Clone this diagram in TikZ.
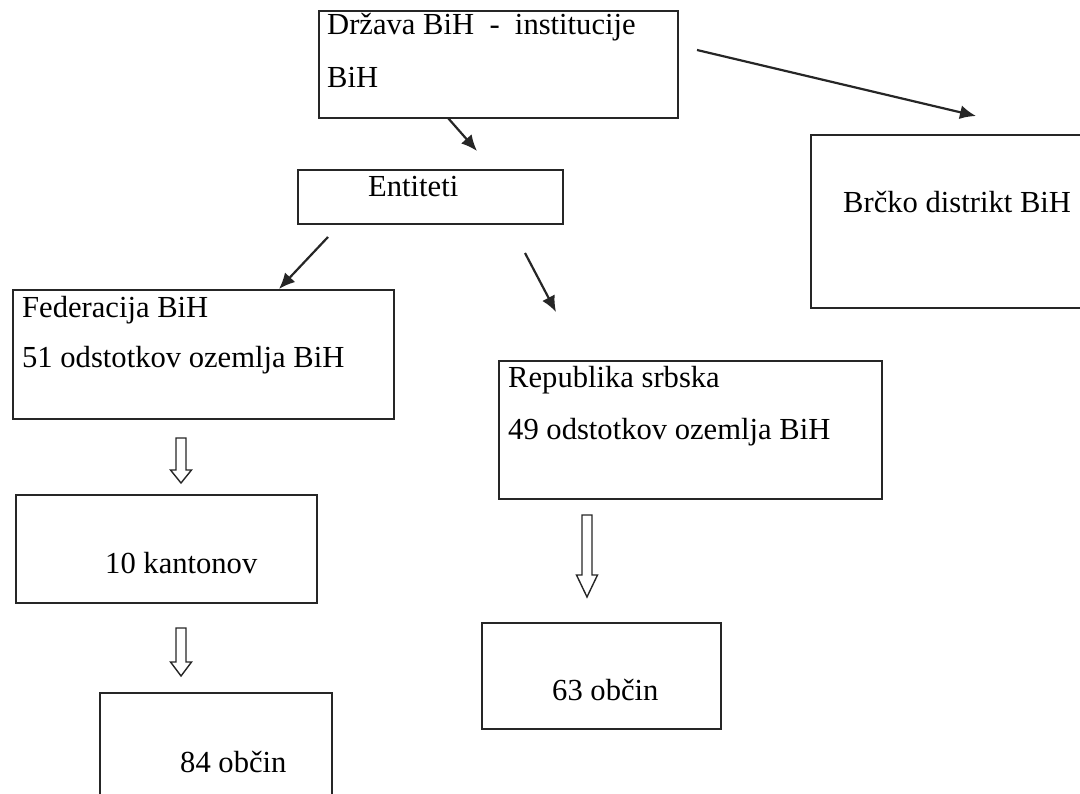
\documentclass[tikz,border=0pt]{standalone}
\usepackage{fontspec}
\setmainfont{Liberation Serif}
\usetikzlibrary{arrows.meta}
\tikzset{
  box/.style={draw=black!85, line width=2pt, fill=none, inner sep=0pt, anchor=north west},
  txt/.style={anchor=base west, inner sep=0pt, font=\fontsize{30.6}{36}\selectfont},
  conn/.style={line width=2.2pt, black!85, -{Latex[length=16pt,width=14pt]}},
  barrow/.style={draw=black!85, line width=1.4pt, fill=white, line join=miter}
}
\newcommand{\hollowarrow}[5]{% x-left-shaft, x-right-shaft, ytop, yhead, ytip
  \path[barrow] (#1,#3) -- (#2,#3) -- (#2,#4) -- ({#2+5.5},#4) -- ({(#1+#2)/2},#5) -- ({#1-5.5},#4) -- (#1,#4) -- cycle;}
\begin{document}
\begin{tikzpicture}[x=1pt,y=-1pt]
\useasboundingbox (0,0) rectangle (1080,794);
% boxes
\node[box, minimum width=359pt, minimum height=107pt] (top) at (318,10) {};
\node[box, minimum width=300pt, minimum height=173pt] (brcko) at (810,134) {};
\node[box, minimum width=265pt, minimum height=54pt] (ent) at (297,169) {};
\node[box, minimum width=381pt, minimum height=129pt] (fed) at (12,289) {};
\node[box, minimum width=383pt, minimum height=138pt] (rep) at (498,360) {};
\node[box, minimum width=301pt, minimum height=108pt] (kant) at (15,494) {};
\node[box, minimum width=239pt, minimum height=106pt] (ob63) at (481,622) {};
\node[box, minimum width=232pt, minimum height=130pt] (ob84) at (99,692) {};
% texts
\node[txt] (t1) at (327,35) {Država BiH\ \ -\ \ institucije};
\node[txt] (t2) at (327,88) {BiH};
\node[txt] (t3) at (368,197) {Entiteti};
\node[txt] (t4) at (843,213) {Brčko distrikt BiH};
\node[txt] (t5) at (22,318) {Federacija BiH};
\node[txt] (t6) at (22,368) {51 odstotkov ozemlja BiH};
\node[txt] (t7) at (508,388) {Republika srbska};
\node[txt] (t8) at (508,440) {49 odstotkov ozemlja BiH};
\node[txt] (t9) at (105,573) {10 kantonov};
\node[txt] (t10) at (552,700) {63 občin};
\node[txt] (t11) at (180,772) {84 občin};
% connector end points
\coordinate (a1) at (448,118); \coordinate (a2) at (477,151);
\coordinate (b1) at (697,50);  \coordinate (b2) at (976,116);
\coordinate (c1) at (328,237); \coordinate (c2) at (279,289);
\coordinate (d1) at (525,253); \coordinate (d2) at (556,312);
\draw[conn] (a1) -- (a2);
\draw[conn] (b1) -- (b2);
\draw[conn] (c1) -- (c2);
\draw[conn] (d1) -- (d2);
% hollow block arrows
\hollowarrow{176}{186}{438}{470}{483}
\hollowarrow{176}{186}{628}{662}{676}
\hollowarrow{582}{592}{515}{575}{597}
\end{tikzpicture}
\end{document}
